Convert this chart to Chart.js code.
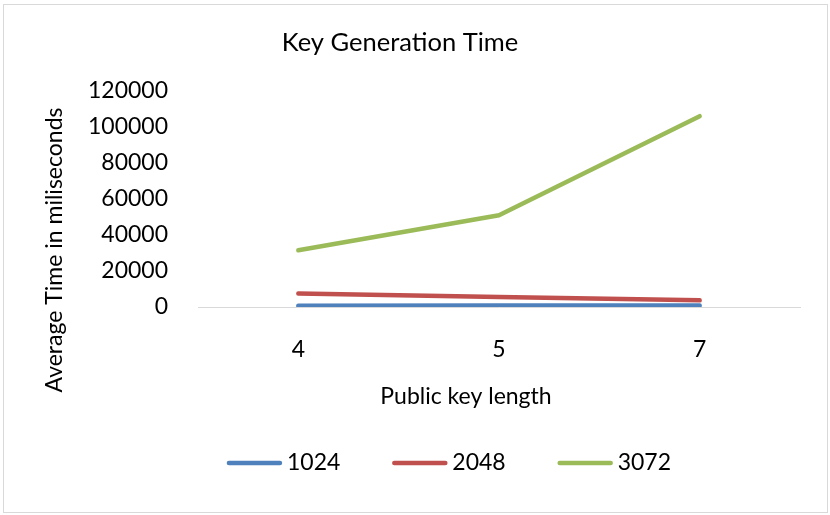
<!DOCTYPE html>
<html>
<head>
<meta charset="utf-8">
<title>Key Generation Time</title>
<script src="https://cdn.jsdelivr.net/npm/chart.js@4/dist/chart.umd.min.js"></script>
<style>
  html, body { margin: 0; padding: 0; background: #ffffff; }
  #wrap { width: 830px; height: 515px; }
</style>
</head>
<body>
<div id="wrap"><canvas id="chart" width="830" height="515"></canvas></div>
<script>
// Public key lengths on the category axis
const keyLengths = ['4', '5', '7'];

// Average key generation time (ms) per modulus size
const series1024 = [700, 800, 900];
const series2048 = [7500, 5500, 3700];
const series3072 = [31500, 51000, 106000];

const seriesNames = ['1024', '2048', '3072'];

// Value axis tick labels
const yTickValues = [0, 20000, 40000, 60000, 80000, 100000, 120000];

const FONT = 'Lato, "Open Sans", "Liberation Sans", sans-serif';
const TEXT = '#000000';
const BODY_SIZE = 23;
const TITLE_SIZE = 25.5;

// Light frame around the whole chart
const framePlugin = {
  id: 'frame',
  beforeDraw(chart) {
    const ctx = chart.ctx;
    ctx.save();
    ctx.fillStyle = '#ffffff';
    ctx.fillRect(0, 0, chart.width, chart.height);
    ctx.strokeStyle = '#d9d9d9';
    ctx.lineWidth = 1;
    ctx.strokeRect(3.5, 4.5, 824, 508);
    ctx.restore();
  }
};

// Axis titles placed independently of the plot area
const axisTitlesPlugin = {
  id: 'axisTitles',
  afterDraw(chart, args, opts) {
    const ctx = chart.ctx;
    ctx.save();
    ctx.fillStyle = TEXT;
    ctx.font = opts.size + 'px ' + FONT;
    ctx.textAlign = 'center';
    ctx.textBaseline = 'middle';
    ctx.fillText(opts.x.text, opts.x.cx, opts.x.cy);
    ctx.translate(opts.y.cx, opts.y.cy);
    ctx.rotate(-Math.PI / 2);
    ctx.fillText(opts.y.text, 0, 0);
    ctx.restore();
  }
};

// Legend with line swatches, built from the datasets
const lineLegendPlugin = {
  id: 'lineLegend',
  afterDraw(chart, args, opts) {
    const ctx = chart.ctx;
    const sets = chart.data.datasets;
    ctx.save();
    ctx.font = opts.size + 'px ' + FONT;
    const widths = sets.map(d => opts.swatch + opts.gap + ctx.measureText(d.label).width);
    const total = widths.reduce((a, b) => a + b, 0) + opts.spacing * (sets.length - 1);
    let x = opts.cx - total / 2;
    sets.forEach((d, i) => {
      ctx.strokeStyle = d.borderColor;
      ctx.lineWidth = d.borderWidth;
      ctx.lineCap = 'round';
      ctx.beginPath();
      ctx.moveTo(x + 2, opts.cy);
      ctx.lineTo(x + opts.swatch - 2, opts.cy);
      ctx.stroke();
      ctx.fillStyle = TEXT;
      ctx.textAlign = 'left';
      ctx.textBaseline = 'middle';
      ctx.fillText(d.label, x + opts.swatch + opts.gap, opts.cy);
      x += widths[i] + opts.spacing;
    });
    ctx.restore();
  }
};

function lineSet(label, data, color) {
  return {
    label: label,
    data: data,
    borderColor: color,
    backgroundColor: color,
    borderWidth: 4.5,
    borderCapStyle: 'round',
    borderJoinStyle: 'round',
    pointRadius: 0,
    pointHoverRadius: 0,
    tension: 0,
    fill: false
  };
}

new Chart(document.getElementById('chart'), {
  type: 'line',
  data: {
    labels: keyLengths,
    datasets: [
      lineSet(seriesNames[0], series1024, '#4f81bd'),
      lineSet(seriesNames[1], series2048, '#c0504d'),
      lineSet(seriesNames[2], series3072, '#9bbb59')
    ]
  },
  options: {
    responsive: false,
    animation: false,
    layout: { padding: { left: 0, right: 30, top: 0, bottom: 0 } },
    plugins: {
      legend: { display: false },
      tooltip: { enabled: false },
      title: {
        display: true,
        text: 'Key Generation Time',
        color: TEXT,
        font: { family: FONT, size: TITLE_SIZE, weight: 'normal', lineHeight: 1.2 },
        padding: { top: 43 - TITLE_SIZE * 0.6, bottom: 91 - 43 - TITLE_SIZE * 0.6 }
      },
      axisTitles: {
        size: BODY_SIZE,
        x: { text: 'Public key length', cx: 466, cy: 397 },
        y: { text: 'Average Time in miliseconds', cx: 55, cy: 250 }
      },
      lineLegend: { size: BODY_SIZE, cx: 449, cy: 463, swatch: 55, gap: 5, spacing: 52 }
    },
    scales: {
      x: {
        type: 'category',
        offset: true,
        grid: { display: false, drawTicks: false },
        border: { display: true, color: '#d9d9d9', width: 1 },
        ticks: {
          color: TEXT,
          padding: 350 - 307 - BODY_SIZE * 0.6,
          font: { family: FONT, size: BODY_SIZE, lineHeight: 1.2 },
          maxRotation: 0
        },
        afterFit(scale) { scale.height = 208; }
      },
      y: {
        min: 0,
        max: 120000,
        grid: { display: false, drawTicks: false },
        border: { display: false },
        ticks: {
          color: TEXT,
          padding: 30,
          font: { family: FONT, size: BODY_SIZE, lineHeight: 1.2 },
          callback: v => String(v)
        },
        afterBuildTicks(scale) { scale.ticks = yTickValues.map(v => ({ value: v })); },
        afterFit(scale) { scale.width = 198; }
      }
    }
  },
  plugins: [framePlugin, axisTitlesPlugin, lineLegendPlugin]
});
</script>
</body>
</html>
